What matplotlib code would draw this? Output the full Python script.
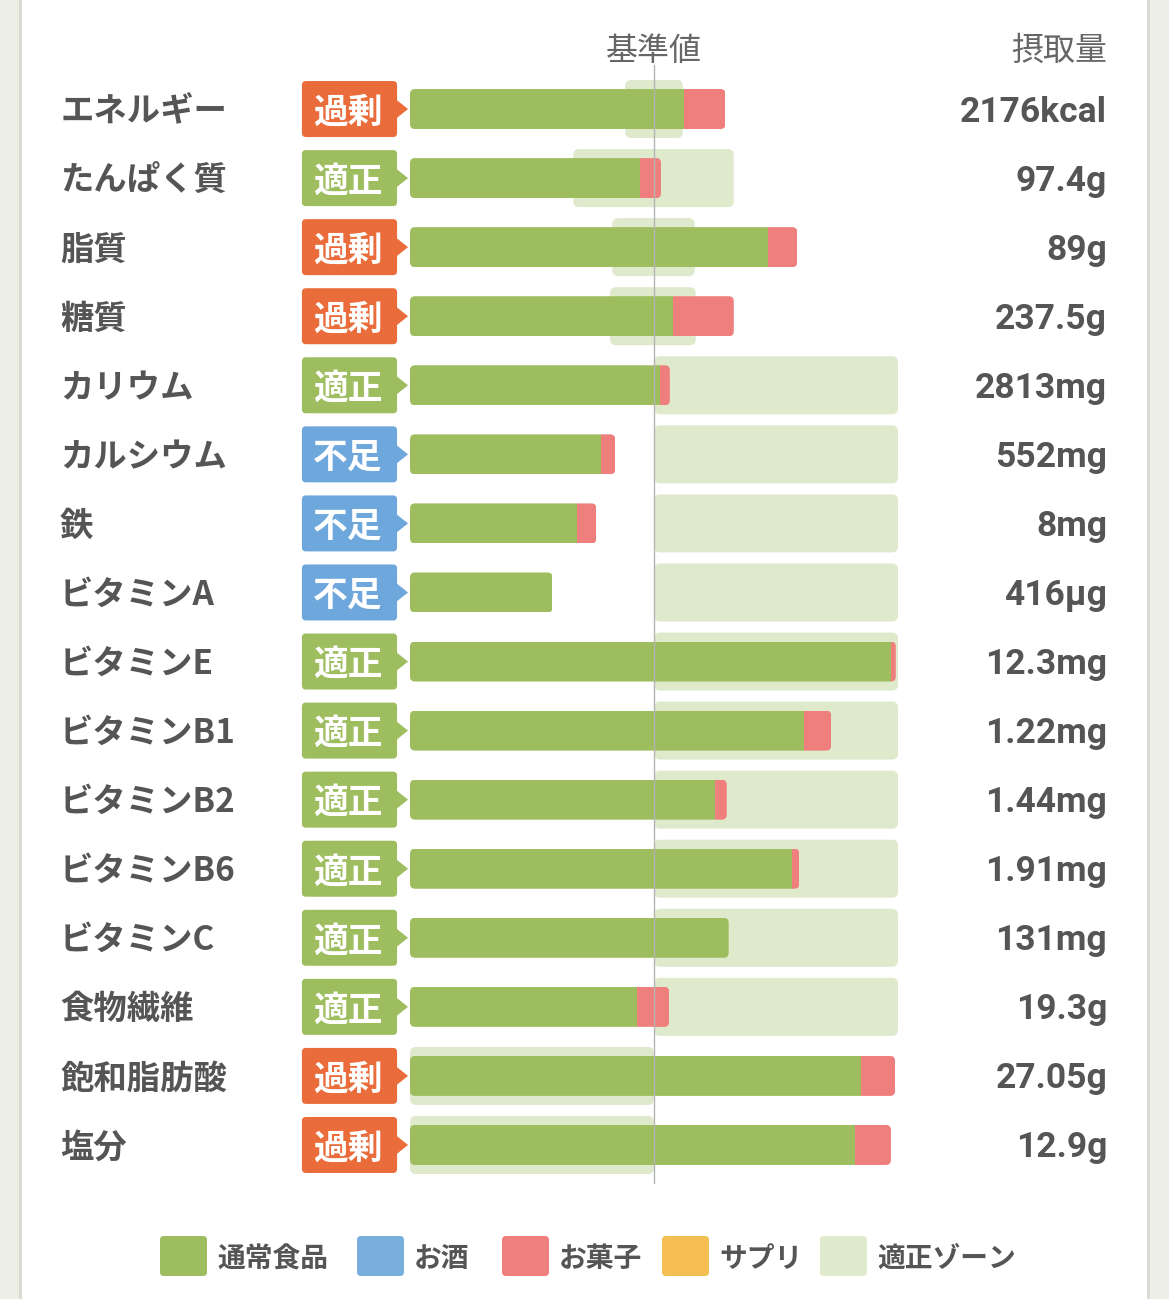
import matplotlib.pyplot as plt
from matplotlib.patches import FancyBboxPatch, Polygon, Rectangle

plt.rcParams['font.family'] = ['Noto Sans CJK JP', 'DejaVu Sans']

# data (percent of reference value 基準値 = 100)
nutrients = ['エネルギー', 'たんぱく質', '脂質', '糖質', 'カリウム', 'カルシウム', '鉄',
             'ビタミンA', 'ビタミンE', 'ビタミンB1', 'ビタミンB2', 'ビタミンB6',
             'ビタミンC', '食物繊維', '飽和脂肪酸', '塩分']
status = ['過剰', '適正', '過剰', '過剰', '適正', '不足', '不足', '不足',
          '適正', '適正', '適正', '適正', '適正', '適正', '過剰', '過剰']
intake = ['2176kcal', '97.4g', '89g', '237.5g', '2813mg', '552mg', '8mg', '416µg',
          '12.3mg', '1.22mg', '1.44mg', '1.91mg', '131mg', '19.3g', '27.05g', '12.9g']
normal_food = [112.2, 94.3, 146.9, 107.8, 102.4, 78.4, 68.6, 58.4,
               197.1, 161.6, 124.9, 156.7, 130.6, 93.1, 184.9, 182.4]
sweets = [17.1, 8.6, 11.8, 24.9, 4.1, 5.7, 7.8, 0,
          2.0, 11.0, 4.9, 2.9, 0, 13.1, 13.9, 14.7]
zone_low = [88.2, 66.9, 82.9, 82.0, 100, 100, 100, 100,
            100, 100, 100, 100, 100, 100, 0, 0]
zone_high = [111.8, 132.7, 116.7, 117.1, 200, 200, 200, 200,
             200, 200, 200, 200, 200, 200, 100, 100]
legend_names = ['通常食品', 'お酒', 'お菓子', 'サプリ', '適正ゾーン']

C_FOOD = '#9dbd5e'
C_ALC = '#79aedd'
C_SWEET = '#ef7f7d'
C_SUPP = '#f4be52'
C_ZONE = '#dfe9cc'
legend_colors = [C_FOOD, C_ALC, C_SWEET, C_SUPP, C_ZONE]
badge_colors = {'過剰': '#ea6c3b', '適正': '#9dbd5e', '不足': '#6ea7dc'}
TXT = '#555555'

W, H = 1169, 1299
fig = plt.figure(figsize=(W / 100, H / 100), dpi=100, facecolor='#eeeee8')

# background / panel / legend axes in pixel units
bg = fig.add_axes([0, 0, 1, 1], zorder=0)
bg.set_xlim(0, W)
bg.set_ylim(H, 0)
bg.axis('off')
bg.add_patch(Rectangle((21, 0), 1126, H, fc='white', ec='none'))
bg.plot([20, 20], [0, H], color='#d9d9d1', lw=2)
bg.plot([1148, 1148], [0, H], color='#d9d9d1', lw=2)

leg_x = [160, 357, 502, 662, 820]
for lx, name, col in zip(leg_x, legend_names, legend_colors):
    bg.add_patch(FancyBboxPatch((lx, 1236), 47, 40, boxstyle='round,pad=0,rounding_size=4',
                                fc=col, ec='none'))
    bg.text(lx + 57, 1259, name, ha='left', va='center', fontsize=20,
            color=TXT, fontweight='bold')

# main chart axes: x 0..200 %, rows 0..15
ax = fig.add_axes([410 / W, 1 - 1179.5 / H, 488 / W, 1105 / H], zorder=1)
ax.set_xlim(0, 200)
ax.set_ylim(15.5, -0.5)
ax.axis('off')
px_x = 488 / 200
px_y = 1105 / 16
asp = px_x / px_y


def rbox(x0, x1, yc, h, r_px, color, z):
    p = FancyBboxPatch((x0, yc - h / 2), x1 - x0, h,
                       boxstyle='round,pad=0,rounding_size=%f' % (r_px / px_x),
                       mutation_aspect=asp, fc=color, ec='none', zorder=z)
    ax.add_patch(p)
    return p


bar_h = 40 / px_y
zone_h = 58 / px_y
badge_h = 56 / px_y
dy = 3 / px_y  # text sits a little low in its row

for i in range(len(nutrients)):
    # zone
    rbox(zone_low[i], zone_high[i], i, zone_h, 6, C_ZONE, 1)
    # stacked bar clipped to a rounded outline
    total = normal_food[i] + sweets[i]
    clip = rbox(0, total, i, bar_h, 5, 'none', 2)
    segs = ax.barh(i, [normal_food[i], sweets[i]], left=[0, normal_food[i]],
                   height=bar_h, color=[C_FOOD, C_SWEET], zorder=3)
    for s in segs:
        s.set_clip_path(clip)
    # badge
    bc = badge_colors[status[i]]
    b0, b1 = -44.3, -5.3
    ax.add_patch(FancyBboxPatch((b0, i - badge_h / 2), b1 - b0, badge_h,
                                boxstyle='round,pad=0,rounding_size=%f' % (4 / px_x),
                                mutation_aspect=asp, fc=bc, ec='none',
                                clip_on=False, zorder=3))
    ax.add_patch(Polygon([(b1 - 0.5, i - 0.14), (-0.8, i), (b1 - 0.5, i + 0.14)],
                         closed=True, fc=bc, ec='none', clip_on=False, zorder=3))
    ax.text((b0 + b1) / 2 - 0.8, i + dy, status[i], ha='center', va='center', fontsize=25,
            color='white', fontweight='bold', clip_on=False, zorder=4)
    # label and value
    ax.text(-143.4, i + dy, nutrients[i], ha='left', va='center', fontsize=24,
            color=TXT, fontweight='bold', clip_on=False)
    ax.text(285.7, i + dy, intake[i], ha='right', va='center', fontsize=25.5,
            color=TXT, fontweight='bold', family=['Roboto', 'DejaVu Sans'],
            clip_on=False)

# reference line and headers
ax.plot([100, 100], [-0.64, 15.55], color='#b4b4b4', lw=1, clip_on=False, zorder=5)
ax.text(100, -0.9 + 4 / px_y, '基準値', ha='center', va='center', fontsize=23,
        color='#666666', clip_on=False)
ax.text(285.7, -0.9 + 4 / px_y, '摂取量', ha='right', va='center', fontsize=23,
        color='#666666', clip_on=False)

fig.savefig('out.png', dpi=100, facecolor=fig.get_facecolor())
